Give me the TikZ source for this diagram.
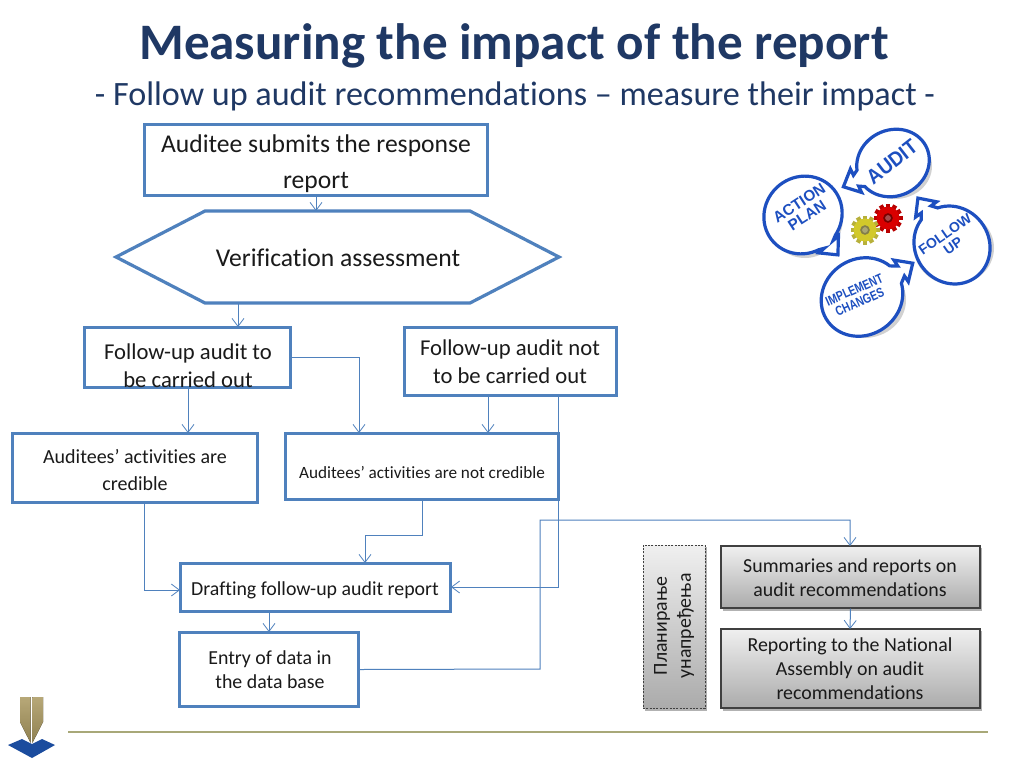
\documentclass[tikz,border=0pt]{standalone}
\usepackage{fontspec}
\setmainfont{Carlito}[Ligatures=NoCommon]
\newfontfamily\iconfont{Liberation Sans}
\usetikzlibrary{arrows.meta,fit,shadings}
\definecolor{bl}{HTML}{4F81BD}
\definecolor{bd}{HTML}{4F81BD}
\definecolor{navy}{HTML}{1F3864}
\definecolor{ink}{HTML}{1A1A1A}
\definecolor{ib}{HTML}{1D4FC0}
\definecolor{gold}{HTML}{B7A878}
\definecolor{goldd}{HTML}{8F8050}
\definecolor{logob}{HTML}{1B4C9E}
\definecolor{rule}{HTML}{A8A878}
\tikzset{
 x=0.75pt,y=-0.75pt,
 box/.style={draw=bd,line width=2.4pt,fill=white,inner sep=-0.6pt},
 grey/.style={draw=black!75,line width=0.8pt,inner sep=0pt,top color=black!6,bottom color=black!33},
 conn/.style={draw=bl,line width=0.75pt,-{Straight Barb[length=6pt,width=9pt,line width=0.6pt]}},
 txt/.style={text=ink,align=center,inner sep=0pt},
 ic/.style={text=ib,align=center,inner sep=0pt},
}
\newcommand\fsz[2]{\fontsize{#1}{#2}\selectfont}
% centre x, centre y, rx, ry, canvas angle, tip distance
\newcommand\bubble[6]{%
 \begin{scope}[shift={(#1,#2)},rotate=#5]
  \draw[ib,line width=2.4pt,fill=white,line join=miter]
   plot[domain=16:344,samples=60] ({#3*cos(\x)},{#4*sin(\x)})
   -- ({#6-14},-6) -- ({#6-14},-13) -- (#6,0) -- ({#6-14},13) -- ({#6-14},6) -- cycle;
 \end{scope}}
\newcommand\bubbleshadow[4]{\fill[black!18] (#1+2,#2+3) ellipse[x radius=#3,y radius=#4];}
% gear: x, y, radius, colour
\newcommand\gear[4]{%
 \foreach \a in {0,30,...,330}{\fill[#4!85!black,shift={(#1,#2)},rotate=\a] (#3-1,-2.2) rectangle (#3+3,2.2);}
 \fill[#4] (#1,#2) circle[radius=#3];
 \fill[#4!55!black] (#1,#2) circle[radius=#3*0.42];
 \fill[#4!40!gray] (#1,#2) circle[radius=#3*0.25];}
\begin{document}
\begin{tikzpicture}
\useasboundingbox (0,0) rectangle (1024,768);
\fill[white] (0,0) rectangle (1024,768);
% titles
\node (title) [text=navy,inner sep=0pt,font=\fsz{38.35}{40}\bfseries] at (514,46) {Measuring the impact of the report};
\node (sub) [text=navy,inner sep=0pt,font=\fsz{25.6}{28}] at (515,96) {- Follow up audit recommendations – measure their impact -};
% boxes
\node (top) [box,fit={(144,124)(488,196)}] {};
\node (topT) [txt,font=\fsz{19.2}{27}] at (316,164) {Auditee submits the response\\report};
\path[box] (116,257) -- (205,211) -- (470,211) -- (559,257) -- (470,303) -- (205,303) -- cycle;
\node (hex) [inner sep=0pt,fit={(116,211)(559,303)}] {};
\node (hexT) [txt,font=\fsz{19.2}{22}] at (338,258) {Verification assessment};
\node (fa) [box,fit={(84,327)(291,388)}] {};
\node (faT) [txt,font=\fsz{17}{21}] at (188,366) {Follow-up audit to\\be carried out};
\node (fna) [box,fit={(404,327)(617,396)}] {};
\node (fnaT) [txt,font=\fsz{17}{21}] at (510,362) {Follow-up audit not\\to be carried out};
\node (cred) [box,fit={(12,433)(258,503)}] {};
\node (credT) [txt,font=\fsz{15}{20.5}] at (135,470) {Auditees’ activities are\\credible};
\node (ncred) [box,fit={(285,433)(559,500)}] {};
\node (ncredT) [txt,font=\fsz{12.9}{15}] at (422,472) {Auditees’ activities are not credible};
\node (draft) [box,fit={(180,563)(451,612)}] {};
\node (draftT) [txt,font=\fsz{14.9}{17}] at (315,590) {Drafting follow-up audit report};
\node (entry) [box,fit={(179,632)(359,707)}] {};
\node (entryT) [txt,font=\fsz{14.9}{18}] at (270,670) {Entry of data in\\the data base};
% grey shadows and boxes
\fill[black!30] (723,548) rectangle (982,611);
\fill[black!30] (723,631) rectangle (982,711);
\fill[black!30] (645,547) rectangle (707,711);
\node (plan) [grey,dash pattern=on 1.5pt off 1pt,line width=0.7pt,fit={(643,545)(705,708)}] {};
\node (planT) [txt,font=\fsz{14.9}{18},rotate=90] at (674,626) {Планирање\\унапређења};
\node (sum) [grey,fit={(721,546)(980,608)}] {};
\node (sumT) [txt,font=\fsz{14.9}{18}] at (850,578) {Summaries and reports on\\audit recommendations};
\node (rep) [grey,fit={(721,629)(980,708)}] {};
\node (repT) [txt,font=\fsz{14.9}{18}] at (850,669) {Reporting to the National\\Assembly on audit\\recommendations};
% connector end coordinates
\coordinate (a1) at (238,303);
\coordinate (a2) at (238,327);
\coordinate (a3) at (359,433);
\coordinate (a4) at (488,396);
\coordinate (a5) at (488,433);
\coordinate (a6) at (558,396);
\coordinate (a7) at (451,587);
\coordinate (a8) at (144,503);
\coordinate (a9) at (180,590);
\coordinate (a10) at (422,535);
\coordinate (a11) at (365,535);
\coordinate (a12) at (365,563);
\coordinate (a13) at (269,612);
\coordinate (a14) at (269,632);
\coordinate (a15) at (540,669);
\coordinate (a16) at (540,520);
\coordinate (a17) at (850,520);
\coordinate (a18) at (188,388);
\coordinate (a19) at (188,433);
\coordinate (a20) at (316,211);
\coordinate (a21) at (850,546);
\coordinate (a22) at (850,629);
% connectors
\draw[conn] (top.south) -- (a20);
\draw[conn] (a1) -- (a2);
\draw[conn] (fa.east) -| (a3);
\draw[conn] (a18) -- (a19);
\draw[conn] (a4) -- (a5);
\draw[conn] (a6) |- (a7);
\draw[conn] (a8) |- (a9);
\draw[conn] (ncred.south) -- (a10) -- (a11) -- (a12);
\draw[conn] (a13) -- (a14);
\draw[conn] (entry.east) -- (a15) -- (a16) -- (a17) -- (a21);
\draw[conn] (sum.south) -- (a22);
% icon
\bubbleshadow{893}{163}{37}{33}
\bubbleshadow{803}{215}{38}{40}
\bubbleshadow{862}{297}{42}{38}
\bubbleshadow{952}{245}{40}{37}
\bubble{893}{163}{37}{33}{205.6}{55}
\bubble{803}{215}{38}{40}{-48.8}{53}
\bubble{862}{297}{42}{38}{33.7}{61}
\bubble{952}{245}{40}{37}{126}{58}
\gear{888}{218}{11.5}{red!85!black}
\gear{865}{230}{11.5}{yellow!80!black}
\node (i1) [ic,font=\iconfont\bfseries\fsz{15.5}{15},rotate=38,xscale=.92] at (892,162) {AUDIT};
\node (i2) [ic,font=\iconfont\bfseries\fsz{11.5}{11},rotate=33] at (803,209) {ACTION\\PLAN};
\node (i3) [ic,font=\iconfont\bfseries\fsz{10}{10},rotate=24,xscale=.78] at (857,296) {IMPLEMENT\\CHANGES};
\node (i4) [ic,font=\iconfont\bfseries\fsz{10.5}{10.5},rotate=35] at (949,240) {FOLLOW\\UP};
% footer
\draw[draw=rule,line width=0.9pt] (68,732) -- (988,732);
\fill[top color=gold,bottom color=goldd] (20,697) -- (30.7,697) -- (30.7,743) -- (20,722) -- cycle;
\fill[top color=gold,bottom color=goldd] (32.3,697) -- (43,697) -- (43,722) -- (32.3,743) -- cycle;
\fill[logob] (8,745) -- (22,739) -- (32,744) -- (42,739) -- (55,745) -- (32,758) -- cycle;
\end{tikzpicture}
\end{document}
